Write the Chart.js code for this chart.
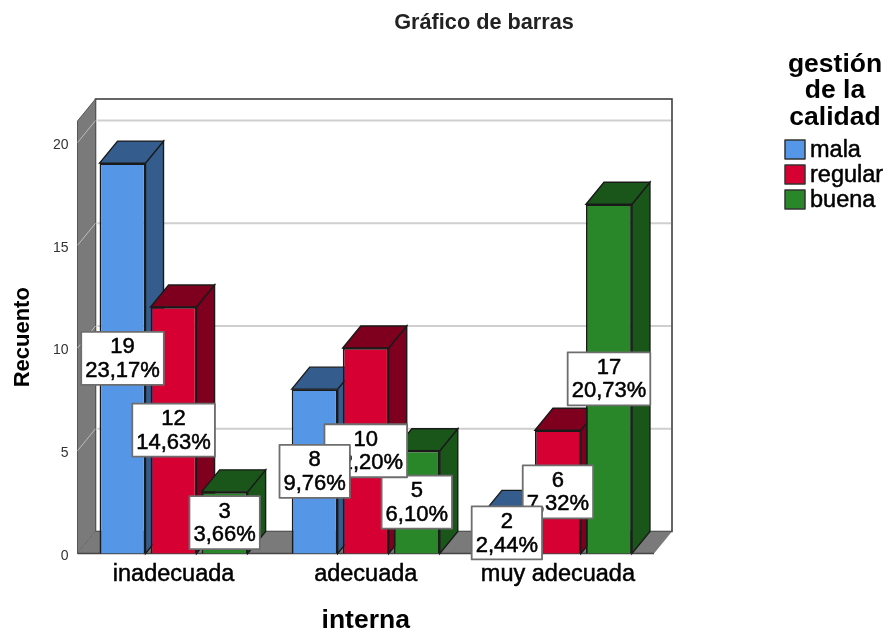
<!DOCTYPE html>
<html><head><meta charset="utf-8">
<style>html,body{margin:0;padding:0;background:#fff}#w{width:889px;height:631px;position:relative}</style>
<script src="https://cdn.jsdelivr.net/npm/chart.js@4"></script>
</head><body><div id="w"><canvas id="c" width="889" height="631"></canvas></div>
<script>
const chartTitle = "Gráfico de barras";
const categories = ["inadecuada", "adecuada", "muy adecuada"];
const seriesNames = ["mala", "regular", "buena"];
const mala = [19, 8, 2];
const regular = [12, 10, 6];
const buena = [3, 5, 17];
const malaPct = ["23,17%", "9,76%", "2,44%"];
const regularPct = ["14,63%", "12,20%", "7,32%"];
const buenaPct = ["3,66%", "6,10%", "20,73%"];
const legendTitle = ["gestión", "de la", "calidad"];
const yTitle = "Recuento";
const xTitle = "interna";
const yTicks = [0, 5, 10, 15, 20];

const FAMILY = '"Liberation Sans", Arial, sans-serif';
const faceColors = ["#5596E6", "#D60032", "#298729"];
const sideColors = ["#345C8C", "#7E001E", "#1A561A"];
const pctBySeries = [malaPct, regularPct, buenaPct];
const DX = 18, DY = 22;

function poly(ctx, pts, fill, stroke, lw) {
  ctx.beginPath();
  pts.forEach((p, i) => i ? ctx.lineTo(p[0], p[1]) : ctx.moveTo(p[0], p[1]));
  ctx.closePath();
  if (fill) { ctx.fillStyle = fill; ctx.fill(); }
  if (stroke) { ctx.strokeStyle = stroke; ctx.lineWidth = lw || 1; ctx.stroke(); }
}
function heavyText(ctx, s, x, y, w, color) {
  ctx.fillStyle = color || "#000"; ctx.strokeStyle = color || "#000"; ctx.lineWidth = w;
  ctx.strokeText(s, x, y); ctx.fillText(s, x, y);
}

const scene3d = {
  id: "scene3d",
  beforeDatasetsDraw(chart) {
    const ctx = chart.ctx, a = chart.chartArea, y = chart.scales.y;
    const L = a.left, R = a.right, B = y.getPixelForValue(0), T = a.top;
    ctx.save();
    poly(ctx, [[L + DX, T - DY], [R + DX, T - DY], [R + DX, B - DY], [L + DX, B - DY]], "#fff", "#333", 1.5);
    poly(ctx, [[L, T], [L + DX, T - DY], [L + DX, B - DY], [L, B]], "#7A7A7A", "#555", 1);
    poly(ctx, [[L, B], [L + DX, B - DY], [R + DX, B - DY], [R, B]], "#7A7A7A", null);
    ctx.strokeStyle = "#444"; ctx.lineWidth = 1.5;
    ctx.beginPath(); ctx.moveTo(L, B); ctx.lineTo(R, B); ctx.stroke();
    yTicks.slice(1).forEach(v => {
      const py = y.getPixelForValue(v);
      ctx.strokeStyle = "#CFCFCF"; ctx.lineWidth = 2;
      ctx.beginPath(); ctx.moveTo(L + DX + 2, py - DY); ctx.lineTo(R + DX - 1, py - DY); ctx.stroke();
      ctx.strokeStyle = "#BDBDBD"; ctx.lineWidth = 1;
      ctx.beginPath(); ctx.moveTo(L, py); ctx.lineTo(L + DX, py - DY); ctx.stroke();
    });
    [0, 1, 2].forEach(ds => {
      const meta = chart.getDatasetMeta(ds);
      meta.data.forEach(bar => {
        const l = bar.x - bar.width / 2, r = bar.x + bar.width / 2, t = bar.y, b = bar.base;
        poly(ctx, [[r, t], [r + DX, t - DY], [r + DX, b - DY], [r, b]], sideColors[ds], "#1a1a1a", 1.4);
        poly(ctx, [[l, t], [l + DX, t - DY], [r + DX, t - DY], [r, t]], sideColors[ds], "#1a1a1a", 1.4);
      });
      meta.controller.draw();
    });
    ctx.restore();
    return false;
  },
  afterDraw(chart) {
    const ctx = chart.ctx;
    ctx.save();
    ctx.lineJoin = "round";
    [2, 1, 0].forEach(ds => {
      chart.getDatasetMeta(ds).data.forEach((bar, i) => {
        const val = String(chart.data.datasets[ds].data[i]), pct = pctBySeries[ds][i];
        const cx = bar.x, cy = (bar.y + bar.base) / 2;
        ctx.font = "22px " + FAMILY;
        const w = ctx.measureText(pct).width + 8, h = 53;
        ctx.fillStyle = "#fff"; ctx.strokeStyle = "#6E6E6E"; ctx.lineWidth = 1.8;
        ctx.fillRect(cx - w / 2, cy - h / 2, w, h);
        ctx.strokeRect(cx - w / 2, cy - h / 2, w, h);
        ctx.textAlign = "center"; ctx.textBaseline = "middle";
        heavyText(ctx, val, cx, cy - 11, 0.5);
        heavyText(ctx, pct, cx, cy + 12.5, 0.5);
      });
    });
    ctx.textAlign = "center"; ctx.textBaseline = "middle";
    ctx.font = "bold 21.7px " + FAMILY;
    ctx.fillStyle = "#222";
    ctx.fillText(chartTitle, 484, 23);
    ctx.font = "bold 26.5px " + FAMILY;
    ctx.fillStyle = "#000";
    legendTitle.forEach((s, i) => ctx.fillText(s, 835, 64.5 + i * 26.5));
    ctx.textAlign = "left";
    ctx.font = "23.5px " + FAMILY;
    seriesNames.forEach((s, i) => {
      const top = 140 + i * 25;
      ctx.fillStyle = faceColors[i]; ctx.strokeStyle = "#333"; ctx.lineWidth = 1.5;
      ctx.fillRect(785, top, 20, 19); ctx.strokeRect(785, top, 20, 19);
      heavyText(ctx, s, 810, top + 11, 0.5);
    });
    ctx.restore();
  }
};

new Chart(document.getElementById("c"), {
  type: "bar",
  data: {
    labels: categories,
    datasets: [mala, regular, buena].map((d, i) => ({
      label: seriesNames[i], data: d,
      backgroundColor: faceColors[i], borderColor: "#1a1a1a", borderWidth: 1.8,
      categoryPercentage: 0.797, barPercentage: 0.9
    }))
  },
  options: {
    responsive: false, animation: false,
    layout: { padding: { top: 121, right: 235, bottom: 0, left: 0 } },
    plugins: { legend: { display: false }, title: { display: false }, tooltip: { enabled: false } },
    scales: {
      x: {
        afterFit(s) { s.height = 77.5; },
        grid: { display: false, drawTicks: false }, border: { display: false },
        ticks: { color: "#000", padding: 7, maxRotation: 0, textStrokeColor: "#000", textStrokeWidth: 0.5,
                 font: { family: FAMILY, size: 23.5 } },
        title: { display: true, text: xTitle, color: "#000", padding: { top: 0, bottom: -3 },
                 font: { family: FAMILY, size: 26.5, weight: "bold", lineHeight: 1 } }
      },
      y: {
        min: 0, max: 21.05,
        afterFit(s) { s.width = 77.5; },
        afterBuildTicks(s) { s.ticks = yTicks.map(v => ({ value: v })); },
        grid: { display: false, drawTicks: false }, border: { display: false },
        ticks: { color: "#333", padding: 9, labelOffset: 2.5, font: { family: FAMILY, size: 14 } },
        title: { display: true, text: yTitle, color: "#000", padding: { top: 12, bottom: 0 },
                 font: { family: FAMILY, size: 22, weight: "bold", lineHeight: 1 } }
      }
    }
  },
  plugins: [scene3d]
});
</script></body></html>
